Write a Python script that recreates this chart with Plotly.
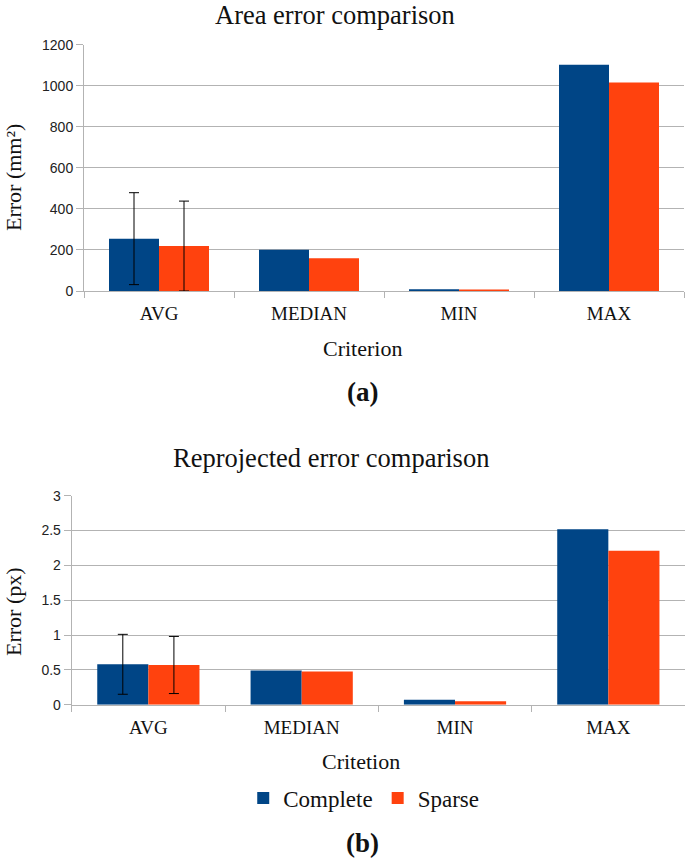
import plotly.graph_objects as go

categories = ["AVG", "MEDIAN", "MIN", "MAX"]

area_complete = [255, 201, 8, 1102]
area_sparse = [219, 159, 7, 1016]
# error bars only exist for the AVG category
area_complete_err = [224]
area_sparse_err = [219]

reproj_complete = [0.58, 0.49, 0.07, 2.52]
reproj_sparse = [0.57, 0.475, 0.05, 2.21]
reproj_complete_err = [0.43]
reproj_sparse_err = [0.41]

C_COMPLETE = "#004586"
C_SPARSE = "#ff420e"
GRID = "#b3b3b3"
SERIF = "Liberation Serif, Times New Roman, serif"
SANS = "Liberation Sans, Arial, sans-serif"

fig = go.Figure()

def err(arr):
    return dict(type="data", array=arr, visible=True, color="black", thickness=1, width=5)

fig.add_trace(go.Bar(x=categories, y=area_complete, name="Complete", marker=dict(color=C_COMPLETE, line=dict(width=0)),
                     error_y=err(area_complete_err), xaxis="x", yaxis="y", showlegend=False))
fig.add_trace(go.Bar(x=categories, y=area_sparse, name="Sparse", marker=dict(color=C_SPARSE, line=dict(width=0)),
                     error_y=err(area_sparse_err), xaxis="x", yaxis="y", showlegend=False))
fig.add_trace(go.Bar(x=categories, y=reproj_complete, name="Complete", marker=dict(color=C_COMPLETE, line=dict(width=0)),
                     error_y=err(reproj_complete_err), xaxis="x2", yaxis="y2", showlegend=True))
fig.add_trace(go.Bar(x=categories, y=reproj_sparse, name="Sparse", marker=dict(color=C_SPARSE, line=dict(width=0)),
                     error_y=err(reproj_sparse_err), xaxis="x2", yaxis="y2", showlegend=True))

xcommon = dict(type="category", showgrid=False, showline=True, linecolor=GRID, linewidth=1,
               ticks="outside", tickson="boundaries", ticklen=6, tickcolor=GRID, automargin=False,
               ticklabelstandoff=5,
               tickfont=dict(family=SERIF, size=19, color="#111"), fixedrange=True)
ycommon = dict(showgrid=True, gridcolor=GRID, gridwidth=1, showline=True, linecolor=GRID, linewidth=1,
               ticks="outside", ticklen=7, tickcolor=GRID, zeroline=False, automargin=False,
               tickfont=dict(family=SANS, size=14, color="#222"))

fig.update_layout(
    width=685, height=859,
    margin=dict(l=0, r=0, t=0, b=0, autoexpand=False),
    paper_bgcolor="white", plot_bgcolor="white",
    barmode="group", bargap=1/3, bargroupgap=0,
    xaxis=dict(domain=[84/685, 684/685], anchor="y", **xcommon),
    yaxis=dict(domain=[1-291/859, 1-44.7/859], anchor="x", range=[0, 1200], dtick=200, **ycommon),
    xaxis2=dict(domain=[71.7/685, 1.0], anchor="y2", **xcommon),
    yaxis2=dict(domain=[1-704.7/859, 1-495.7/859], anchor="x2", range=[0, 3], dtick=0.5, **ycommon),
    legend=dict(orientation="h", x=0.531, xanchor="center", y=1-798/859, yanchor="middle",
                font=dict(family=SERIF, size=23, color="#111"), itemwidth=30, traceorder="normal"),
    font=dict(family=SERIF, color="#111"),
)

def ann(text, x, y, size, bold=False, angle=0):
    fig.add_annotation(text=f"<b>{text}</b>" if bold else text, x=x/685, y=1-y/859, xref="paper", yref="paper",
                       showarrow=False, xanchor="center", yanchor="middle", textangle=angle,
                       font=dict(family=SERIF, size=size, color="#111"))

ann("Area error comparison", 335, 15, 26.5)
ann("Criterion", 362, 348, 22)
ann("(a)", 362, 392, 27, bold=True)
ann("Error (mm²)", 13, 178, 22, angle=-90)

ann("Reprojected error comparison", 331, 458, 26.5)
ann("Critetion", 361, 761, 22)
ann("Error (px)", 13, 612, 22, angle=-90)
ann("(b)", 362, 843, 27, bold=True)

fig.write_html("out.html", config={"displayModeBar": False},
               post_script="document.body.style.margin='0';document.body.style.overflow='hidden';")
